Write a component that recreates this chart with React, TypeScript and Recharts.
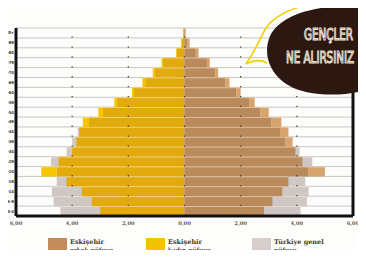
import { BarChart, Bar, XAxis, YAxis, CartesianGrid, ReferenceLine } from "recharts";

const ageGroups = ["90+", "85-89", "80-84", "75-79", "70-74", "65-69", "60-64", "55-59", "50-54", "45-49", "40-44", "35-39", "30-34", "25-29", "20-24", "15-19", "10-14", "5-9", "0-4"];
const eskFemale = [0.05, 0.12, 0.3, 0.82, 1.13, 1.5, 1.87, 2.5, 3.07, 3.62, 3.75, 3.85, 4.0, 4.48, 5.1, 4.2, 3.66, 3.3, 3.0];
const eskMale = [0.04, 0.18, 0.5, 0.9, 1.2, 1.6, 2.0, 2.5, 3.0, 3.45, 3.7, 3.85, 3.95, 4.2, 5.0, 3.7, 3.48, 3.13, 2.83];
const trFemale = [0.04, 0.1, 0.28, 0.78, 1.05, 1.4, 1.8, 2.4, 2.9, 3.4, 3.8, 4.0, 4.2, 4.75, 4.55, 4.55, 4.72, 4.66, 4.42];
const trMale = [0.03, 0.1, 0.4, 0.8, 1.1, 1.45, 1.85, 2.3, 2.7, 3.1, 3.4, 3.6, 4.1, 4.55, 4.4, 4.3, 4.42, 4.36, 4.13];
const xTicks = [-6, -4, -2, 0, 2, 4, 6];
const dotTicks = [-4, -2, 0, 2, 4];

const legendItems = [
  { title: "Eskişehir", sub: "erkek nüfusu", color: "#C28C5A", left: 48 },
  { title: "Eskişehir", sub: "kadın nüfusu", color: "#F3C300", left: 146 },
  { title: "Türkiye genel", sub: "nüfusu", color: "#D6CECB", left: 252 },
];

// eskisehir bars split into the part inside the turkey bar (darker) and the part past it (lighter)
const data = ageGroups.map((age, i) => ({
  age,
  tf: -trFemale[i],
  tm: trMale[i],
  fBase: -Math.min(eskFemale[i], trFemale[i]),
  fTip: -Math.max(0, eskFemale[i] - trFemale[i]),
  mBase: Math.min(eskMale[i], trMale[i]),
  mTip: Math.max(0, eskMale[i] - trMale[i]),
}));

const fmt = (v: number) => Math.abs(v).toFixed(2).replace(".", ",");

const BandShape = (props: any) => {
  const { x, y, width, height, fill } = props;
  if (!width || !height) return null;
  const x0 = Math.min(x, x + width);
  const w = Math.abs(width);
  return (
    <g>
      <rect x={x0} y={y} width={w} height={height} fill={fill} />
      <line x1={x0} x2={x0 + w} y1={y + 0.4} y2={y + 0.4} stroke="rgba(255,245,225,0.6)" strokeWidth={0.8} />
    </g>
  );
};

const tickFont = { fontFamily: "DejaVu Sans Condensed", fontSize: 4.2, fontWeight: 700, fill: "#3a3028" };
const bubbleFont = { fontFamily: "DejaVu Sans Condensed", fontSize: 11.5, fill: "none", stroke: "#ece3d4", strokeWidth: 0.8 };

export default function App() {
  return (
    <div style={{ position: "relative", width: 366, height: 258, margin: -8, background: "#fdfdfc", overflow: "hidden" }}>
      <div style={{ position: "absolute", left: 0, top: 0, width: 366, height: 2, background: "#24452f" }} />
      <BarChart width={366} height={258} data={data} layout="vertical" stackOffset="sign" barCategoryGap={0}
        margin={{ top: 28, right: 13, bottom: 22, left: 0 }}>
        <CartesianGrid vertical={false} stroke="#b9b9b9" strokeWidth={0.8}
          horizontalCoordinatesGenerator={({ offset }: any) =>
            Array.from({ length: ageGroups.length }, (_, i) => offset.top + (i * offset.height) / ageGroups.length)} />
        <XAxis type="number" domain={[-6, 6]} ticks={xTicks} tickFormatter={fmt} allowDataOverflow
          axisLine={{ stroke: "#111", strokeWidth: 3 }} tickLine={false} tickSize={0} tickMargin={5} height={20}
          tick={{ fontFamily: "DejaVu Serif", fontSize: 5.2, fontWeight: 700, fill: "#6a5a4c" }} />
        <XAxis xAxisId="tr" type="number" domain={[-6, 6]} allowDataOverflow hide />
        <YAxis type="category" dataKey="age" width={16} axisLine={{ stroke: "#111", strokeWidth: 3 }}
          tickLine={false} tickSize={0} tickMargin={2} tick={tickFont} interval={0} />
        <YAxis yAxisId="tr" type="category" dataKey="age" hide />
        <Bar dataKey="tf" stackId="tr" xAxisId="tr" yAxisId="tr" fill="#CFC7C4" shape={BandShape} isAnimationActive={false} />
        <Bar dataKey="tm" stackId="tr" xAxisId="tr" yAxisId="tr" fill="#CFC7C4" shape={BandShape} isAnimationActive={false} />
        <Bar dataKey="fBase" stackId="esk" fill="#E2AA0C" shape={BandShape} isAnimationActive={false} />
        <Bar dataKey="fTip" stackId="esk" fill="#F6C600" shape={BandShape} isAnimationActive={false} />
        <Bar dataKey="mBase" stackId="esk" fill="#B98A5C" shape={BandShape} isAnimationActive={false} />
        <Bar dataKey="mTip" stackId="esk" fill="#D8A46E" shape={BandShape} isAnimationActive={false} />
        {dotTicks.map((t) => (
          <ReferenceLine key={t} x={t} stroke="#5a4030" strokeWidth={1.3} strokeDasharray="1.3 8.6" />
        ))}
        <ReferenceLine x={6} stroke="#111" strokeWidth={3} />
      </BarChart>

      {legendItems.map((it) => (
        <div key={it.left} style={{ position: "absolute", left: it.left, top: 238, width: 90, height: 17 }}>
          <div style={{ position: "absolute", left: 0, top: 0, width: 19, height: 15, background: it.color }} />
          <div style={{ position: "absolute", left: 22, top: 0, fontFamily: "DejaVu Serif", color: "#4a3a30", fontSize: 6.5, fontWeight: 700, lineHeight: "8px", whiteSpace: "nowrap" }}>
            {it.title}
          </div>
          <div style={{ position: "absolute", left: 22, top: 8, fontFamily: "DejaVu Serif", color: "#4a3a30", fontSize: 5.8, fontWeight: 700, lineHeight: "8px", whiteSpace: "nowrap" }}>
            {it.sub}
          </div>
        </div>
      ))}

      <svg width={366} height={258} style={{ position: "absolute", left: 0, top: 0, pointerEvents: "none" }}>
        <path d="M 366 1 C 318 -2, 280 8, 266 28 C 259 40, 256 50, 246 64 C 256 59, 262 60, 267 63"
          fill="none" stroke="#F0D000" strokeWidth={1.6} />
        <path d="M 366 6 C 322 4, 282 12, 270 36 C 260 60, 276 86, 306 92 C 330 97, 352 94, 366 90 Z" fill="#2c1811" />
        <text transform="translate(304,40) scale(1,1.4)" {...bubbleFont}>GENÇLER</text>
        <text transform="translate(286,63) scale(1,1.4)" {...bubbleFont}>NE ALIRSINIZ</text>
      </svg>
    </div>
  );
}
